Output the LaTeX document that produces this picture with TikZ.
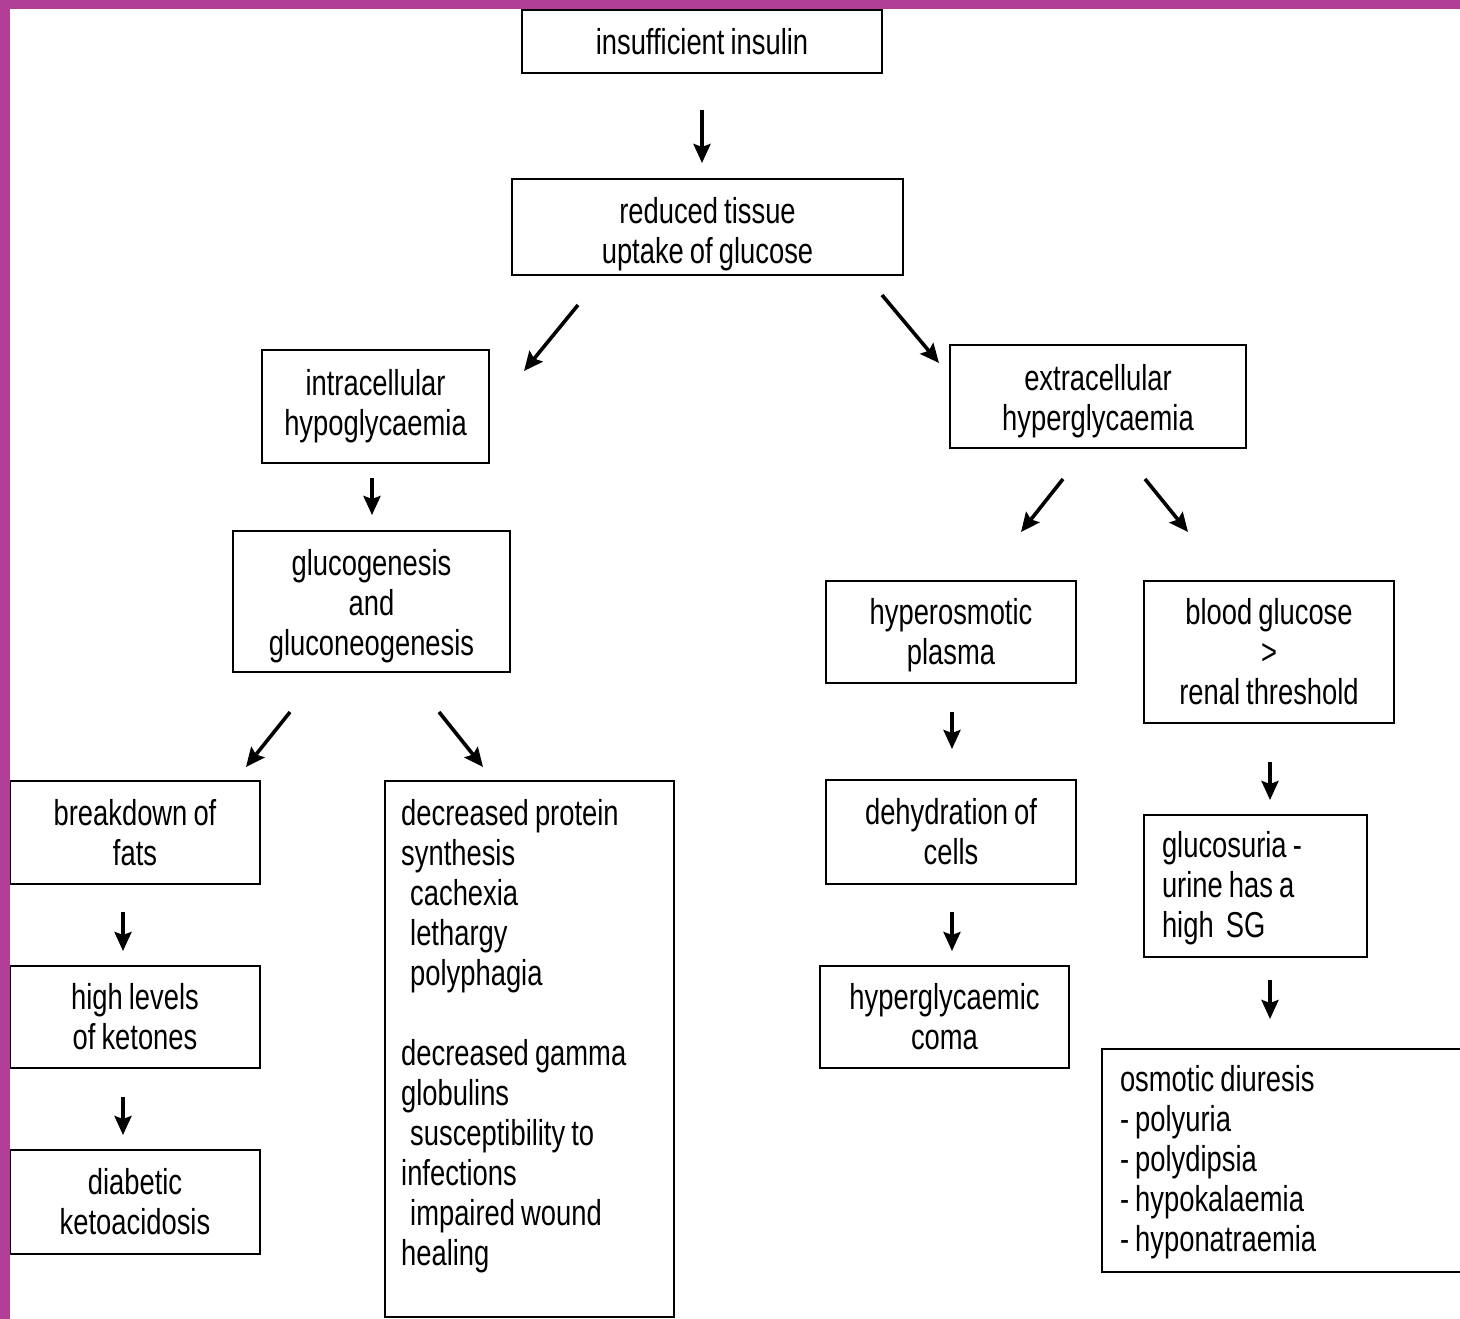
\documentclass[tikz,border=0pt]{standalone}
\usepackage{fontspec}
\setmainfont[FakeStretch=0.76,WordSpace=0.8]{Liberation Sans}
\usetikzlibrary{arrows.meta}
\definecolor{frame}{RGB}{177,63,151}
\newcommand\lift[1]{\rule{0pt}{#1}}
\begin{document}
\begin{tikzpicture}[x=1pt,y=-1pt,
  box/.style={draw=black, line width=2pt, fill=white, inner sep=0pt, align=center,
    font=\fontsize{36}{40}\selectfont},
  lbox/.style={box, align=flush left},
  txt/.style={inner sep=0pt, align=left, font=\fontsize{36}{40}\selectfont},
  arr/.style={line width=3.6pt, -{Stealth[length=19pt,width=17pt,inset=3pt]}}]
\clip (0,0) rectangle (1460,1319);
\fill[white] (0,0) rectangle (1460,1319);

% boxes
\node[box, minimum width=360, minimum height=63] (insuff) at (702,41.5) {insufficient insulin};
\node[box, minimum width=391, minimum height=96] (reduced) at (707.5,227) {\lift{40pt}reduced tissue\\uptake of glucose};
\node[box, minimum width=227, minimum height=113] (intra) at (375.5,406.5) {intracellular\\hypoglycaemia};
\node[box, minimum width=296, minimum height=103] (extra) at (1098,396.5) {\lift{36pt}extracellular\\hyperglycaemia};
\node[box, minimum width=277, minimum height=141] (gluco) at (371.5,601.5) {\lift{36pt}glucogenesis\\and\\gluconeogenesis};
\node[box, minimum width=250, minimum height=102] (hyperosm) at (951,632) {\lift{32pt}hyperosmotic\\plasma};
\node[box, minimum width=250, minimum height=142] (bloodg) at (1269,652) {blood glucose\\>\\renal threshold};
\node[box, minimum width=250, minimum height=103] (breakdown) at (135,832.5) {breakdown of\\fats};
\node[box, minimum width=289, minimum height=536] (protein) at (529.5,1049) {};
\node[txt, anchor=west] (proteintext) at (401,1036) {decreased protein\\synthesis\\\hspace*{9pt}cachexia\\\hspace*{9pt}lethargy\\\hspace*{9pt}polyphagia\\[40pt]decreased gamma\\globulins\\\hspace*{9pt}susceptibility to\\infections\\\hspace*{9pt}impaired wound\\healing};
\node[box, minimum width=250, minimum height=104] (dehyd) at (951,832) {dehydration of\\cells};
\node[lbox, minimum height=142, text width=187, inner xsep=18pt] (glucosuria) at (1255.5,886) {\lift{30pt}glucosuria -\\urine has a\\high\ \ SG};
\node[box, minimum width=250, minimum height=102] (ketones) at (135,1017) {high levels\\of ketones};
\node[box, minimum width=249, minimum height=102] (coma) at (944.5,1017) {hyperglycaemic\\coma};
\node[box, minimum width=250, minimum height=104] (dka) at (135,1202) {diabetic\\ketoacidosis};
\node[lbox, minimum height=223, text width=364, inner xsep=18pt] (osmotic) at (1302,1160.5) {\lift{30pt}osmotic diuresis\\- polyuria\\- polydipsia\\- hypokalaemia\\- hyponatraemia};

% arrow end points
\coordinate (a1s) at (702,110);   \coordinate (a1e) at (702,163);
\coordinate (a2s) at (578,305);   \coordinate (a2e) at (524,371);
\coordinate (a3s) at (882,295);   \coordinate (a3e) at (939,363);
\coordinate (a4s) at (372,478);   \coordinate (a4e) at (372,515);
\coordinate (a5s) at (1063,479);  \coordinate (a5e) at (1021,532);
\coordinate (a6s) at (1145,479);  \coordinate (a6e) at (1188,532);
\coordinate (a7s) at (290,712);   \coordinate (a7e) at (246,767);
\coordinate (a8s) at (439,712);   \coordinate (a8e) at (483,767);
\coordinate (a9s) at (952,712);   \coordinate (a9e) at (952,749);
\coordinate (a10s) at (123,912);  \coordinate (a10e) at (123,951);
\coordinate (a11s) at (123,1097); \coordinate (a11e) at (123,1135);
\coordinate (a12s) at (952,912);  \coordinate (a12e) at (952,951);
\coordinate (a13s) at (1270,762); \coordinate (a13e) at (1270,800);
\coordinate (a14s) at (1270,980); \coordinate (a14e) at (1270,1019);

\foreach \i in {1,...,14} {\draw[arr] (a\i s) -- (a\i e);}

% frame
\fill[frame] (0,0) rectangle (1460,9);
\fill[frame] (0,0) rectangle (10,1319);
\end{tikzpicture}
\end{document}
